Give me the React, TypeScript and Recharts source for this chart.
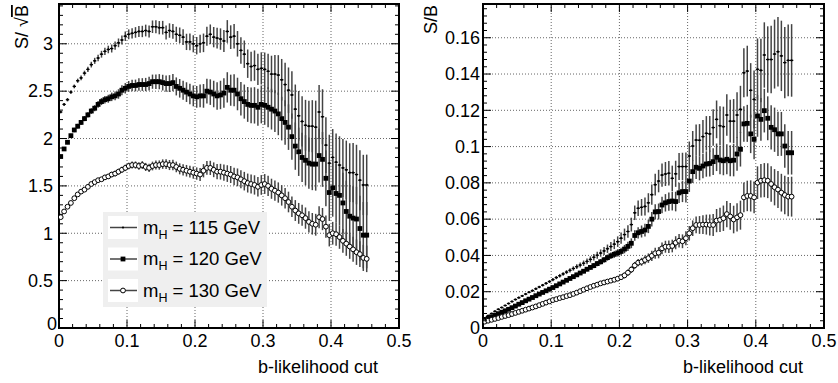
import React from 'react'
import { ScatterChart, Scatter, XAxis, YAxis, CartesianGrid, ErrorBar, ReferenceArea, Legend } from 'recharts'

const FONT = '"Liberation Sans", Arial, Helvetica, sans-serif'

// b-likelihood cut values (bin centres)
const xCut = [
  0.0025, 0.0075, 0.0125, 0.0175, 0.0225, 0.0275, 0.0325, 0.0375, 0.0425, 0.0475,
  0.0525, 0.0575, 0.0625, 0.0675, 0.0725, 0.0775, 0.0825, 0.0875, 0.0925, 0.0975,
  0.1025, 0.1075, 0.1125, 0.1175, 0.1225, 0.1275, 0.1325, 0.1375, 0.1425, 0.1475,
  0.1525, 0.1575, 0.1625, 0.1675, 0.1725, 0.1775, 0.1825, 0.1875, 0.1925, 0.1975,
  0.2025, 0.2075, 0.2125, 0.2175, 0.2225, 0.2275, 0.2325, 0.2375, 0.2425, 0.2475,
  0.2525, 0.2575, 0.2625, 0.2675, 0.2725, 0.2775, 0.2825, 0.2875, 0.2925, 0.2975,
  0.3025, 0.3075, 0.3125, 0.3175, 0.3225, 0.3275, 0.3325, 0.3375, 0.3425, 0.3475,
  0.3525, 0.3575, 0.3625, 0.3675, 0.3725, 0.3775, 0.3825, 0.3875, 0.3925, 0.3975,
  0.4025, 0.4075, 0.4125, 0.4175, 0.4225, 0.4275, 0.4325, 0.4375, 0.4425, 0.4475,
  0.4525,
]
const BIN_HALF = 0.0025

// S/sqrt(B)
const sig115 = [
  2.28, 2.36, 2.41, 2.49, 2.55, 2.61, 2.64, 2.69, 2.73, 2.78,
  2.82, 2.85, 2.89, 2.92, 2.94, 2.95, 2.98, 3.01, 3.04, 3.08,
  3.10, 3.11, 3.12, 3.13, 3.13, 3.14, 3.13, 3.18, 3.18, 3.17,
  3.17, 3.12, 3.14, 3.13, 3.10, 3.09, 3.07, 3.02, 3.02, 3.00,
  2.98, 3.00, 3.01, 3.08, 3.10, 3.07, 3.06, 3.05, 3.03, 3.13,
  3.07, 3.08, 3.00, 2.93, 2.89, 2.79, 2.76, 2.77, 2.73, 2.74,
  2.73, 2.71, 2.68, 2.68, 2.67, 2.62, 2.57, 2.51, 2.46, 2.31,
  2.24, 2.18, 2.14, 2.13, 2.13, 2.12, 2.28, 2.23, 1.93, 1.74,
  1.80, 1.75, 1.72, 1.69, 1.67, 1.64, 1.64, 1.62, 1.56, 1.51,
  1.51,
]
const sigErr115 = [
  0.015, 0.016, 0.018, 0.019, 0.02, 0.022, 0.024, 0.026, 0.028, 0.03,
  0.032, 0.034, 0.036, 0.038, 0.04, 0.042, 0.044, 0.046, 0.048, 0.05,
  0.052, 0.054, 0.056, 0.058, 0.06, 0.062, 0.064, 0.066, 0.068, 0.07,
  0.072, 0.074, 0.076, 0.078, 0.08, 0.082, 0.084, 0.086, 0.088, 0.09,
  0.092, 0.095, 0.098, 0.1, 0.104, 0.107, 0.11, 0.113, 0.116, 0.12,
  0.125, 0.13, 0.135, 0.14, 0.145, 0.15, 0.155, 0.16, 0.165, 0.17,
  0.178, 0.186, 0.194, 0.202, 0.21, 0.22, 0.23, 0.24, 0.25, 0.26,
  0.262, 0.265, 0.268, 0.27, 0.275, 0.28, 0.285, 0.29, 0.295, 0.3,
  0.3, 0.302, 0.304, 0.306, 0.308, 0.31, 0.312, 0.314, 0.316, 0.318,
  0.32,
]
const sig120 = [
  1.81, 1.89, 1.96, 2.03, 2.09, 2.13, 2.17, 2.21, 2.25, 2.29,
  2.32, 2.36, 2.39, 2.41, 2.42, 2.44, 2.45, 2.47, 2.51, 2.53,
  2.55, 2.56, 2.56, 2.57, 2.57, 2.57, 2.58, 2.60, 2.60, 2.60,
  2.59, 2.58, 2.58, 2.59, 2.55, 2.53, 2.51, 2.49, 2.47, 2.45,
  2.44, 2.45, 2.45, 2.50, 2.49, 2.47, 2.45, 2.46, 2.48, 2.54,
  2.51, 2.51, 2.47, 2.42, 2.39, 2.36, 2.35, 2.35, 2.33, 2.36,
  2.35, 2.33, 2.31, 2.29, 2.26, 2.21, 2.17, 2.12, 2.02, 1.92,
  1.86, 1.80, 1.77, 1.74, 1.73, 1.73, 1.82, 1.78, 1.58, 1.43,
  1.48, 1.42, 1.40, 1.32, 1.23, 1.18, 1.16, 1.15, 1.05, 0.98,
  0.98,
]
const sigErr120 = [
  0.015, 0.017, 0.019, 0.021, 0.023, 0.025, 0.026, 0.027, 0.028, 0.03,
  0.032, 0.035, 0.037, 0.04, 0.042, 0.045, 0.047, 0.05, 0.052, 0.055,
  0.057, 0.06, 0.062, 0.065, 0.067, 0.07, 0.072, 0.075, 0.077, 0.08,
  0.083, 0.086, 0.089, 0.092, 0.095, 0.098, 0.101, 0.104, 0.107, 0.11,
  0.115, 0.12, 0.125, 0.13, 0.135, 0.14, 0.145, 0.15, 0.155, 0.16,
  0.164, 0.168, 0.172, 0.176, 0.18, 0.184, 0.188, 0.192, 0.196, 0.2,
  0.205, 0.21, 0.215, 0.22, 0.225, 0.23, 0.235, 0.24, 0.245, 0.25,
  0.255, 0.26, 0.265, 0.27, 0.275, 0.28, 0.285, 0.29, 0.295, 0.3,
  0.305, 0.31, 0.315, 0.32, 0.325, 0.33, 0.335, 0.34, 0.345, 0.35,
  0.35,
]
const sig130 = [
  1.17, 1.23, 1.28, 1.32, 1.37, 1.41, 1.44, 1.46, 1.49, 1.52,
  1.54, 1.56, 1.57, 1.59, 1.60, 1.62, 1.63, 1.65, 1.67, 1.69,
  1.71, 1.72, 1.72, 1.71, 1.72, 1.70, 1.69, 1.71, 1.72, 1.72,
  1.73, 1.73, 1.72, 1.72, 1.70, 1.68, 1.67, 1.66, 1.65, 1.64,
  1.63, 1.62, 1.66, 1.69, 1.69, 1.67, 1.65, 1.65, 1.64, 1.63,
  1.62, 1.60, 1.59, 1.57, 1.55, 1.53, 1.52, 1.51, 1.49, 1.51,
  1.52, 1.50, 1.47, 1.45, 1.43, 1.40, 1.37, 1.33, 1.28, 1.24,
  1.21, 1.19, 1.16, 1.12, 1.10, 1.09, 1.17, 1.15, 1.07, 0.98,
  1.00, 0.99, 0.96, 0.92, 0.89, 0.86, 0.83, 0.80, 0.78, 0.74,
  0.73,
]
const sigErr130 = [
  0.01, 0.011, 0.012, 0.013, 0.014, 0.015, 0.016, 0.017, 0.018, 0.019,
  0.02, 0.022, 0.023, 0.025, 0.026, 0.028, 0.029, 0.031, 0.032, 0.034,
  0.035, 0.037, 0.038, 0.04, 0.041, 0.043, 0.044, 0.046, 0.047, 0.049,
  0.05, 0.052, 0.053, 0.055, 0.056, 0.058, 0.059, 0.061, 0.062, 0.064,
  0.065, 0.068, 0.07, 0.073, 0.075, 0.078, 0.08, 0.083, 0.085, 0.088,
  0.09, 0.092, 0.094, 0.096, 0.098, 0.1, 0.101, 0.102, 0.103, 0.104,
  0.105, 0.106, 0.106, 0.107, 0.107, 0.108, 0.108, 0.109, 0.109, 0.11,
  0.11, 0.111, 0.112, 0.113, 0.114, 0.115, 0.116, 0.117, 0.118, 0.119,
  0.12, 0.122, 0.124, 0.126, 0.128, 0.13, 0.132, 0.134, 0.136, 0.138,
  0.14,
]

// S/B
const sb115 = [
  0.0055, 0.0068, 0.0080, 0.0092, 0.0103, 0.0113, 0.0124, 0.0135, 0.0146, 0.0157,
  0.0167, 0.0177, 0.0187, 0.0197, 0.0206, 0.0216, 0.0226, 0.0236, 0.0246, 0.0256,
  0.0267, 0.0278, 0.0288, 0.0298, 0.0308, 0.0318, 0.0328, 0.0338, 0.0347, 0.0357,
  0.0367, 0.0378, 0.0390, 0.0401, 0.0413, 0.0425, 0.0437, 0.0449, 0.0462, 0.0476,
  0.0495, 0.0515, 0.0532, 0.0570, 0.0635, 0.0660, 0.0665, 0.0670, 0.0690, 0.0735,
  0.0790, 0.0810, 0.0843, 0.0849, 0.0853, 0.0825, 0.0850, 0.0890, 0.0890, 0.0890,
  0.0948, 0.1003, 0.1036, 0.1035, 0.1055, 0.1073, 0.1070, 0.1105, 0.1150, 0.1115,
  0.1110, 0.1174, 0.1140, 0.1140, 0.1174, 0.1205, 0.1407, 0.1416, 0.1310, 0.1260,
  0.1426, 0.1420, 0.1505, 0.1480, 0.1480, 0.1510, 0.1523, 0.1500, 0.1463, 0.1475,
  0.1475,
]
const sbErr115 = [
  0.0003, 0.0003, 0.0003, 0.0004, 0.0004, 0.0004, 0.0004, 0.0005, 0.0005, 0.0005,
  0.0005, 0.0005, 0.0006, 0.0006, 0.0006, 0.0007, 0.0007, 0.0007, 0.0008, 0.0008,
  0.0009, 0.0009, 0.001, 0.001, 0.0011, 0.0012, 0.0012, 0.0013, 0.0014, 0.0015,
  0.0016, 0.0017, 0.0018, 0.0019, 0.002, 0.0022, 0.0023, 0.0025, 0.0027, 0.0029,
  0.0031, 0.0033, 0.0035, 0.0038, 0.004, 0.0043, 0.0046, 0.005, 0.0053, 0.0056,
  0.006, 0.0062, 0.0064, 0.0066, 0.0068, 0.007, 0.0072, 0.0074, 0.0076, 0.0078,
  0.008, 0.0083, 0.0086, 0.0089, 0.0092, 0.0095, 0.0098, 0.0101, 0.0104, 0.0107,
  0.011, 0.0114, 0.0118, 0.0122, 0.0126, 0.013, 0.0135, 0.014, 0.015, 0.016,
  0.017, 0.0175, 0.018, 0.0183, 0.0186, 0.019, 0.0192, 0.0194, 0.0196, 0.0198,
  0.02,
]
const sb120 = [
  0.0045, 0.0053, 0.0062, 0.0071, 0.0079, 0.0087, 0.0095, 0.0103, 0.0112, 0.0121,
  0.0131, 0.0140, 0.0150, 0.0159, 0.0168, 0.0178, 0.0187, 0.0196, 0.0205, 0.0214,
  0.0223, 0.0233, 0.0243, 0.0253, 0.0263, 0.0273, 0.0283, 0.0293, 0.0303, 0.0313,
  0.0324, 0.0334, 0.0344, 0.0355, 0.0365, 0.0376, 0.0388, 0.0398, 0.0406, 0.0414,
  0.0422, 0.0435, 0.0450, 0.0467, 0.0510, 0.0525, 0.0532, 0.0540, 0.0560, 0.0600,
  0.0640, 0.0642, 0.0678, 0.0690, 0.0697, 0.0700, 0.0697, 0.0745, 0.0752, 0.0752,
  0.0810, 0.0862, 0.0886, 0.0880, 0.0893, 0.0904, 0.0907, 0.0917, 0.0941, 0.0926,
  0.0922, 0.0930, 0.0922, 0.0925, 0.0959, 0.0985, 0.1125, 0.1128, 0.1070, 0.1040,
  0.1169, 0.1150, 0.1198, 0.1156, 0.1106, 0.1093, 0.1070, 0.1070, 0.1003, 0.0966,
  0.0966,
]
const sbErr120 = [
  0.0003, 0.0003, 0.0003, 0.0003, 0.0003, 0.0004, 0.0004, 0.0004, 0.0004, 0.0004,
  0.0005, 0.0005, 0.0005, 0.0005, 0.0006, 0.0006, 0.0006, 0.0006, 0.0007, 0.0007,
  0.0007, 0.0008, 0.0008, 0.0009, 0.0009, 0.001, 0.001, 0.0011, 0.0011, 0.0012,
  0.0012, 0.0013, 0.0014, 0.0014, 0.0015, 0.0016, 0.0017, 0.0018, 0.0019, 0.002,
  0.0021, 0.0023, 0.0025, 0.0027, 0.0029, 0.0031, 0.0033, 0.0035, 0.0037, 0.004,
  0.0042, 0.0044, 0.0046, 0.0048, 0.005, 0.0052, 0.0054, 0.0056, 0.0058, 0.006,
  0.006, 0.0062, 0.0064, 0.0066, 0.0068, 0.007, 0.0072, 0.0074, 0.0076, 0.0078,
  0.008, 0.0083, 0.0086, 0.0089, 0.0092, 0.0095, 0.0098, 0.0102, 0.0106, 0.011,
  0.0115, 0.0118, 0.012, 0.0121, 0.0122, 0.0122, 0.0122, 0.0121, 0.012, 0.012,
  0.012,
]
const sb130 = [
  0.0035, 0.0040, 0.0045, 0.0050, 0.0055, 0.0061, 0.0066, 0.0071, 0.0077, 0.0083,
  0.0089, 0.0095, 0.0101, 0.0107, 0.0113, 0.0119, 0.0126, 0.0133, 0.0140, 0.0147,
  0.0154, 0.0159, 0.0165, 0.0170, 0.0176, 0.0181, 0.0188, 0.0195, 0.0203, 0.0211,
  0.0219, 0.0226, 0.0233, 0.0239, 0.0246, 0.0251, 0.0256, 0.0261, 0.0266, 0.0272,
  0.0280, 0.0290, 0.0305, 0.0322, 0.0345, 0.0360, 0.0365, 0.0375, 0.0385, 0.0398,
  0.0412, 0.0415, 0.0439, 0.0448, 0.0448, 0.0452, 0.0470, 0.0481, 0.0478, 0.0495,
  0.0522, 0.0550, 0.0568, 0.0568, 0.0570, 0.0570, 0.0568, 0.0568, 0.0592, 0.0596,
  0.0605, 0.0628, 0.0615, 0.0598, 0.0610, 0.0622, 0.0720, 0.0728, 0.0728, 0.0720,
  0.0801, 0.0812, 0.0815, 0.0812, 0.0794, 0.0776, 0.0763, 0.0746, 0.0733, 0.0724,
  0.0724,
]
const sbErr130 = [
  0.0002, 0.0002, 0.0002, 0.0002, 0.0002, 0.0003, 0.0003, 0.0003, 0.0003, 0.0003,
  0.0003, 0.0003, 0.0004, 0.0004, 0.0004, 0.0004, 0.0004, 0.0005, 0.0005, 0.0005,
  0.0005, 0.0005, 0.0006, 0.0006, 0.0006, 0.0007, 0.0007, 0.0007, 0.0008, 0.0008,
  0.0008, 0.0009, 0.0009, 0.001, 0.001, 0.0011, 0.0012, 0.0012, 0.0013, 0.0014,
  0.0015, 0.0016, 0.0017, 0.0018, 0.0019, 0.002, 0.0022, 0.0024, 0.0026, 0.0028,
  0.003, 0.0031, 0.0032, 0.0033, 0.0034, 0.0035, 0.0036, 0.0037, 0.0038, 0.0039,
  0.004, 0.0043, 0.0046, 0.0049, 0.0052, 0.0055, 0.0058, 0.0061, 0.0064, 0.0067,
  0.007, 0.0072, 0.0074, 0.0076, 0.0078, 0.008, 0.0082, 0.0084, 0.0086, 0.0088,
  0.009, 0.0092, 0.0094, 0.0096, 0.0098, 0.01, 0.0102, 0.0104, 0.0106, 0.0108,
  0.011,
]

// axis ticks (major + minor) and the labelled ones
const xTicks = [
  0, 0.02, 0.04, 0.06, 0.08, 0.1, 0.12, 0.14, 0.16, 0.18, 0.2, 0.22, 0.24,
  0.26, 0.28, 0.3, 0.32, 0.34, 0.36, 0.38, 0.4, 0.42, 0.44, 0.46, 0.48, 0.5,
]
const xLabels = [0, 0.1, 0.2, 0.3, 0.4, 0.5]
const sigTicks = [
  0, 0.1, 0.2, 0.3, 0.4, 0.5, 0.6, 0.7, 0.8, 0.9, 1, 1.1, 1.2, 1.3, 1.4, 1.5, 1.6, 1.7,
  1.8, 1.9, 2, 2.1, 2.2, 2.3, 2.4, 2.5, 2.6, 2.7, 2.8, 2.9, 3, 3.1, 3.2, 3.3, 3.4,
]
const sigLabels = [0, 0.5, 1, 1.5, 2, 2.5, 3]
const sbTicks = [
  0, 0.004, 0.008, 0.012, 0.016, 0.02, 0.024, 0.028, 0.032, 0.036, 0.04, 0.044, 0.048,
  0.052, 0.056, 0.06, 0.064, 0.068, 0.072, 0.076, 0.08, 0.084, 0.088, 0.092, 0.096, 0.1,
  0.104, 0.108, 0.112, 0.116, 0.12, 0.124, 0.128, 0.132, 0.136, 0.14, 0.144, 0.148,
  0.152, 0.156, 0.16, 0.164, 0.168, 0.172, 0.176,
]
const sbLabels = [0, 0.02, 0.04, 0.06, 0.08, 0.1, 0.12, 0.14, 0.16]

const masses = ['115', '120', '130']

type Kind = 'dot' | 'square' | 'circle'
const kinds: Kind[] = ['dot', 'square', 'circle']

const toPoints = (vals: number[], errs: number[]) =>
  xCut.map((x, i) => ({ x, y: vals[i], ey: errs[i], ex: BIN_HALF }))

const sigSeries = [toPoints(sig115, sigErr115), toPoints(sig120, sigErr120), toPoints(sig130, sigErr130)]
const sbSeries = [toPoints(sb115, sbErr115), toPoints(sb120, sbErr120), toPoints(sb130, sbErr130)]

function Marker({ kind, cx, cy }: { kind: Kind; cx: number; cy: number }) {
  if (kind === 'square') return <rect x={cx - 2.4} y={cy - 2.4} width={4.8} height={4.8} fill="#000" />
  if (kind === 'circle') return <circle cx={cx} cy={cy} r={2.4} fill="#fff" stroke="#000" strokeWidth={1} />
  return <circle cx={cx} cy={cy} r={1.1} fill="#000" />
}

const near = (v: number, list: number[]) => list.some((b) => Math.abs(v - b) < 1e-9)
const fmt = (v: number) => String(Number(v.toFixed(3)))

interface Frame {
  left: number
  right: number
  top: number
  bottom: number
}

function xTick(frame: Frame) {
  return (props: any) => {
    const { x, payload } = props
    const major = near(payload.value, xLabels)
    const len = major ? 8 : 4
    return (
      <g>
        <line x1={x} x2={x} y1={frame.bottom} y2={frame.bottom - len} stroke="#000" />
        <line x1={x} x2={x} y1={frame.top} y2={frame.top + len} stroke="#000" />
        {major && (
          <text x={x} y={frame.bottom + 19} textAnchor="middle" fontSize={18} fontFamily={FONT} fill="#000">
            {fmt(payload.value)}
          </text>
        )}
      </g>
    )
  }
}

function yTick(frame: Frame, labels: number[], gap: number, zeroShift: [number, number]) {
  return (props: any) => {
    const { y, payload } = props
    const major = near(payload.value, labels)
    const len = major ? 8 : 4
    const isZero = payload.value === 0
    return (
      <g>
        <line x1={frame.left} x2={frame.left + len} y1={y} y2={y} stroke="#000" />
        <line x1={frame.right} x2={frame.right - len} y1={y} y2={y} stroke="#000" />
        {major && (
          <text
            x={frame.left - gap + (isZero ? zeroShift[0] : 0)}
            y={y + (isZero ? zeroShift[1] : 0)}
            dy="0.35em"
            textAnchor="end"
            fontSize={18}
            fontFamily={FONT}
            fill="#000"
          >
            {fmt(payload.value)}
          </text>
        )}
      </g>
    )
  }
}

// axis titles get their own position props so recharts' label props can't move them
function XTitle({ endX }: { endX: number }) {
  return (
    <text x={endX} y={373} textAnchor="end" fontSize={18} fontFamily={FONT} fill="#000">
      b-likelihood cut
    </text>
  )
}

function YTitle({ baseX, sqrt }: { baseX: number; sqrt: boolean }) {
  return (
    <text
      x={baseX}
      y={5}
      transform={`rotate(-90 ${baseX} 5)`}
      textAnchor="end"
      fontSize={18}
      fontFamily={FONT}
      fill="#000"
    >
      {sqrt ? (
        <>
          S/ √<tspan fill="#000" style={{ textDecoration: 'overline' }}>B</tspan>
        </>
      ) : (
        'S/B'
      )}
    </text>
  )
}

function LegendBox() {
  return (
    <svg width={164} height={95} style={{ display: 'block' }}>
      <rect x={0} y={0} width={164} height={95} fill="#efefef" />
      {masses.map((m, i) => {
        const cy = 15.5 + i * 31.5
        return (
          <g key={m}>
            <rect x={5} y={cy - 11.5} width={30} height={23} fill="#fff" />
            <line x1={7} x2={34} y1={cy} y2={cy} stroke="#444" strokeWidth={1.5} />
            <Marker kind={kinds[i]} cx={20} cy={cy} />
            <text x={40} y={cy + 6} fontSize={18.5} fontFamily={FONT} fill="#000">
              m
              <tspan fontSize={12.5} dy={5} fill="#000">
                H
              </tspan>
              <tspan dy={-5} fill="#000">
                {` = ${m} GeV`}
              </tspan>
            </text>
          </g>
        )
      })}
    </svg>
  )
}

interface PanelProps {
  frame: Frame
  yMax: number
  yTicks: number[]
  yLabels: number[]
  yGridValues: number[]
  labelGap: number
  zeroShift: [number, number]
  series: { x: number; y: number; ey: number; ex: number }[][]
  sqrtTitle: boolean
  titleX: number
  showLegend: boolean
}

const W = 419
const H = 383

function Panel(p: PanelProps) {
  const { frame } = p
  return (
    <ScatterChart width={W} height={H} margin={{ top: frame.top, right: W - frame.right, bottom: 0, left: 0 }}>
      <CartesianGrid
        stroke="#666"
        strokeDasharray="1 2"
        horizontalValues={p.yGridValues}
        verticalValues={[0.1, 0.2, 0.3, 0.4]}
      />
      <XAxis
        type="number"
        dataKey="x"
        domain={[0, 0.5]}
        allowDataOverflow
        ticks={xTicks}
        interval={0}
        tick={xTick(frame)}
        tickLine={false}
        axisLine={false}
        height={H - frame.bottom}
        label={() => <XTitle endX={frame.right - 21} />}
      />
      <YAxis
        type="number"
        dataKey="y"
        domain={[0, p.yMax]}
        allowDataOverflow
        ticks={p.yTicks}
        interval={0}
        tick={yTick(frame, p.yLabels, p.labelGap, p.zeroShift)}
        tickLine={false}
        axisLine={false}
        width={frame.left}
        label={() => <YTitle baseX={p.titleX} sqrt={p.sqrtTitle} />}
      />
      {p.series.map((data, i) => (
        <Scatter
          key={masses[i]}
          name={masses[i]}
          data={data}
          isAnimationActive={false}
          shape={(s: any) => <Marker kind={kinds[i]} cx={s.cx} cy={s.cy} />}
        >
          <ErrorBar dataKey="ey" direction="y" width={0} stroke="#444" strokeWidth={1.5} isAnimationActive={false} />
          <ErrorBar dataKey="ex" direction="x" width={0} stroke="#000" strokeWidth={1.2} isAnimationActive={false} />
        </Scatter>
      ))}
      <ReferenceArea
        x1={0}
        x2={0.5}
        y1={0}
        y2={p.yMax}
        fill="none"
        fillOpacity={0}
        stroke="#000"
        strokeWidth={2}
        ifOverflow="visible"
      />
      {p.showLegend && (
        <Legend
          layout="horizontal"
          verticalAlign="middle"
          align="center"
          content={() => <LegendBox />}
          wrapperStyle={{ left: 103, top: 212, width: 164, height: 95 }}
        />
      )}
    </ScatterChart>
  )
}

export default function App() {
  return (
    <div
      style={{
        position: 'absolute',
        left: 0,
        top: 0,
        width: 838,
        height: 383,
        background: '#fff',
        display: 'flex',
        overflow: 'hidden',
      }}
    >
      <Panel
        frame={{ left: 59, right: 399, top: 4, bottom: 328 }}
        yMax={3.42}
        yTicks={sigTicks}
        yLabels={sigLabels}
        yGridValues={[0.5, 1, 1.5, 2, 2.5, 3]}
        labelGap={6}
        zeroShift={[4, -4]}
        series={sigSeries}
        sqrtTitle
        titleX={28}
        showLegend
      />
      <Panel
        frame={{ left: 64, right: 405, top: 4, bottom: 328 }}
        yMax={0.1786}
        yTicks={sbTicks}
        yLabels={sbLabels}
        yGridValues={[0.02, 0.04, 0.06, 0.08, 0.1, 0.12, 0.14, 0.16]}
        labelGap={3}
        zeroShift={[0, 0]}
        series={sbSeries}
        sqrtTitle={false}
        titleX={18}
        showLegend={false}
      />
    </div>
  )
}
